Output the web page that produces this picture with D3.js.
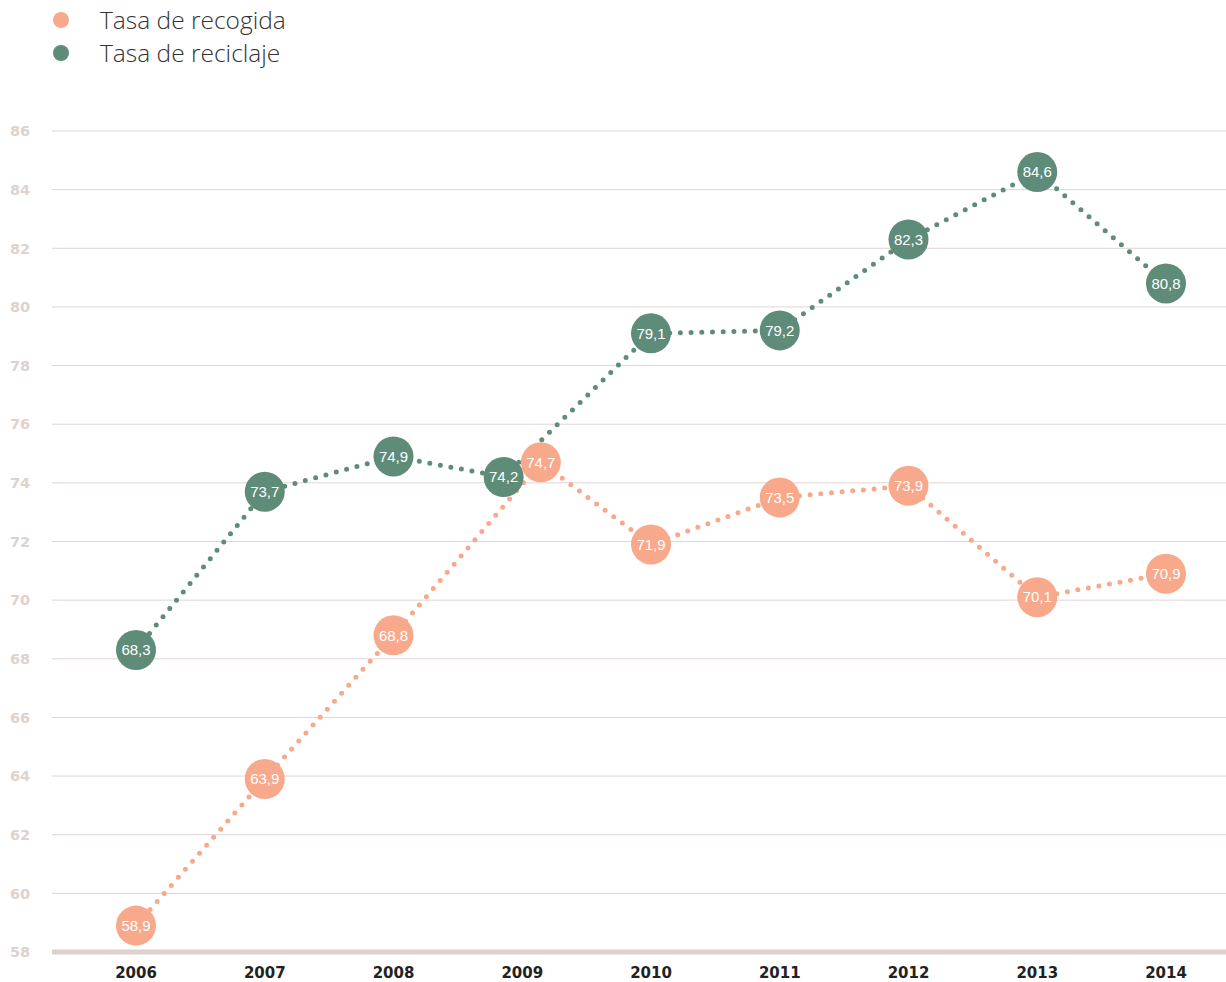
<!DOCTYPE html>
<html>
<head>
<meta charset="utf-8">
<script src="https://cdn.jsdelivr.net/npm/d3@7"></script>
<style>
  html, body { margin: 0; padding: 0; background: #ffffff; }
  svg { display: block; }
</style>
</head>
<body>
<svg id="chart" width="1226" height="982"></svg>
<script>
// Data: collection and recycling rates by year
const years = ["2006", "2007", "2008", "2009", "2010", "2011", "2012", "2013", "2014"];
const tasaRecogida = [58.9, 63.9, 68.8, 74.7, 71.9, 73.5, 73.9, 70.1, 70.9];
const tasaReciclaje = [68.3, 73.7, 74.9, 74.2, 79.1, 79.2, 82.3, 84.6, 80.8];
const yTicks = [58, 60, 62, 64, 66, 68, 70, 72, 74, 76, 78, 80, 82, 84, 86];
const seriesNames = ["Tasa de recogida", "Tasa de reciclaje"];
const seriesColors = ["#f8a98b", "#5e8c79"];

const svg = d3.select("#chart");
const W = 1226;
const R = 20; // marker radius

const x = d3.scalePoint().domain(years).range([136, 1166]);
const y = d3.scaleLinear().domain([58, 86]).range([952, 131]);

// Gridlines
svg.append("g")
  .selectAll("line")
  .data(yTicks.filter(t => t !== 58))
  .join("line")
  .attr("x1", 52).attr("x2", W)
  .attr("y1", d => y(d)).attr("y2", d => y(d))
  .attr("stroke", "#e0d5d3").attr("stroke-width", 1);

// Baseline
svg.append("line")
  .attr("x1", 52).attr("x2", W)
  .attr("y1", y(58)).attr("y2", y(58))
  .attr("stroke", "#dcd1cc").attr("stroke-width", 5);

// Y tick labels
svg.append("g")
  .selectAll("text")
  .data(yTicks)
  .join("text")
  .attr("x", 10)
  .attr("y", d => y(d))
  .attr("dy", "0.36em")
  .attr("font-family", "DejaVu Sans, sans-serif")
  .attr("font-weight", "bold")
  .attr("font-size", 14.5)
  .attr("fill", "#ddd2ce")
  .text(d => d);

// X tick labels
svg.append("g")
  .selectAll("text")
  .data(years)
  .join("text")
  .attr("x", d => x(d))
  .attr("y", 973)
  .attr("dy", "0.36em")
  .attr("text-anchor", "middle")
  .attr("font-family", "DejaVu Sans, sans-serif")
  .attr("font-weight", "bold")
  .attr("font-size", 15)
  .attr("fill", "#222222")
  .text(d => d);

// Build point records; where markers of both series would overlap in a year,
// push them apart horizontally so both labels stay readable.
const series = [tasaReciclaje, tasaRecogida].map((vals, si) => vals.map((v, i) => ({
  year: years[i], value: v, cx: x(years[i]), cy: y(v),
  color: si === 0 ? seriesColors[1] : seriesColors[0]
})));
years.forEach((yr, i) => {
  const a = series[0][i], b = series[1][i];
  const dy = Math.abs(a.cy - b.cy);
  if (dy < 2 * R) {
    const half = Math.sqrt(4 * R * R - dy * dy) / 2;
    const left = a.value < b.value ? a : b;
    const right = left === a ? b : a;
    left.cx -= half;
    right.cx += half;
  }
});

const line = d3.line().x(d => d.cx).y(d => d.cy);

// Dotted connecting lines
series.forEach(pts => {
  svg.append("path")
    .datum(pts)
    .attr("d", line)
    .attr("fill", "none")
    .attr("stroke", pts[0].color)
    .attr("stroke-width", 5)
    .attr("stroke-linecap", "round")
    .attr("stroke-dasharray", "0,10.7");
});

// Markers with value labels
series.forEach(pts => {
  const g = svg.append("g");
  g.selectAll("circle")
    .data(pts)
    .join("circle")
    .attr("cx", d => d.cx).attr("cy", d => d.cy)
    .attr("r", R)
    .attr("fill", d => d.color);
  g.selectAll("text")
    .data(pts)
    .join("text")
    .attr("x", d => d.cx).attr("y", d => d.cy)
    .attr("dy", "0.35em")
    .attr("text-anchor", "middle")
    .attr("font-family", "Liberation Sans, Arial, sans-serif")
    .attr("font-size", 15)
    .attr("fill", "#ffffff")
    .text(d => d3.format(".1f")(d.value).replace(".", ","));
});

// Legend
const legend = svg.append("g");
seriesNames.forEach((name, i) => {
  const ly = 20 + i * 33;
  legend.append("circle")
    .attr("cx", 61).attr("cy", ly).attr("r", 8)
    .attr("fill", seriesColors[i]);
  legend.append("text")
    .attr("x", 100).attr("y", ly)
    .attr("dy", "0.35em")
    .attr("font-family", "Open Sans, sans-serif")
    .attr("font-weight", 300)
    .attr("font-size", 24.5)
    .attr("fill", "#333333")
    .text(name);
});
</script>
</body>
</html>
